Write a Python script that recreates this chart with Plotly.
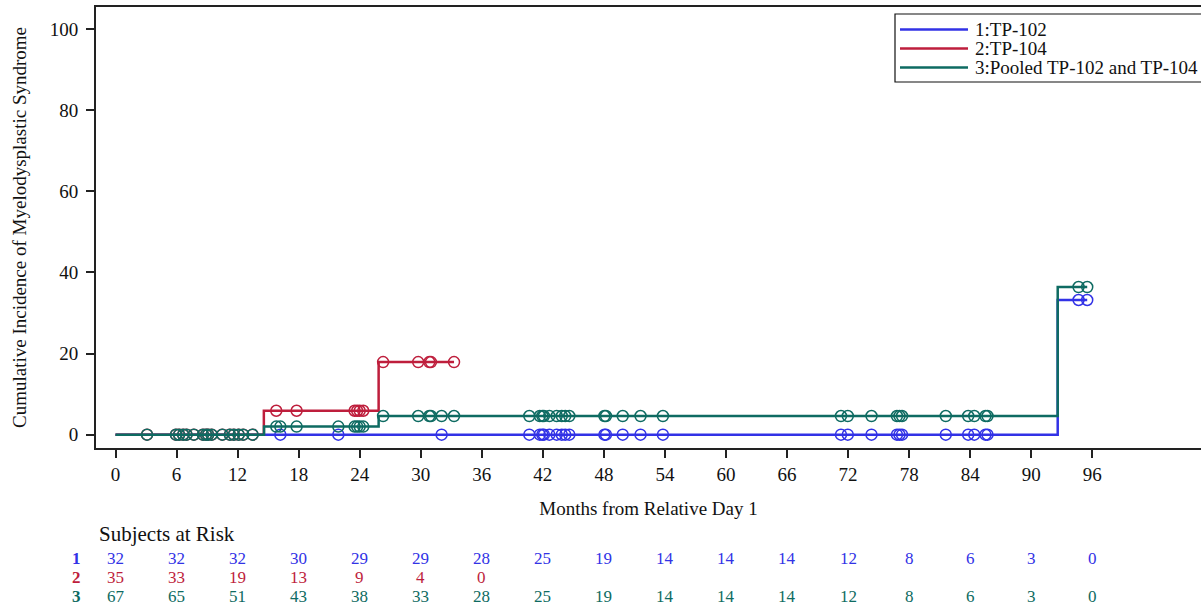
import plotly.graph_objects as go

# ---------------- data ----------------
x_ticks = list(range(0, 97, 6))
y_ticks = [0, 20, 40, 60, 80, 100]
group_names = ["1:TP-102", "2:TP-104", "3:Pooled TP-102 and TP-104"]
group_labels = ["1", "2", "3"]
colors = ["#3232E6", "#BE1E3C", "#0E6B62"]

# step curves (event times, cumulative incidence after each event)
blue_step_t = [0, 92.6]
blue_step_v = [0, 33.2]
blue_end = 95.5
red_step_t = [0, 14.58, 25.86]
red_step_v = [0, 5.9, 17.9]
red_end = 33.27
green_step_t = [0, 14.6, 25.86, 92.6]
green_step_v = [0, 2.0, 4.6, 36.4]
green_end = 95.5

# censored times
blue_censor = [16.2, 21.9, 32.05, 40.67, 41.7, 41.95, 42.1, 42.64, 43.36, 43.86,
               44.2, 44.6, 48.05, 48.2, 49.85, 51.6, 53.8, 71.3, 71.97, 74.3,
               76.8, 77.05, 77.3, 81.6, 83.8, 84.4, 85.5, 85.7, 94.65, 95.5]
red_censor = [3.1, 5.94, 6.25, 6.65, 6.98, 7.7, 8.6, 8.9, 9.1, 9.45, 10.5, 11.24,
              11.63, 12.1, 12.55, 13.47, 15.8, 17.8, 23.5, 23.75, 24.0, 24.35,
              26.3, 29.75, 30.84, 31.0, 33.27]
green_censor = [3.1, 5.94, 6.25, 6.65, 6.98, 7.7, 8.6, 8.9, 9.1, 9.45, 10.5, 11.24,
                11.63, 12.1, 12.55, 13.47, 15.8, 16.2, 17.8, 21.9, 23.5, 23.75,
                24.0, 24.35, 26.3, 29.75, 30.84, 31.0, 32.05, 33.27, 40.67, 41.7,
                41.95, 42.1, 42.64, 43.36, 43.86, 44.2, 44.6, 48.05, 48.2, 49.85,
                51.6, 53.8, 71.3, 71.97, 74.3, 76.8, 77.05, 77.3, 81.6, 83.8, 84.4,
                85.5, 85.7, 94.65, 95.5]

# subjects at risk
risk_blue = [32, 32, 32, 30, 29, 29, 28, 25, 19, 14, 14, 14, 12, 8, 6, 3, 0]
risk_red = [35, 33, 19, 13, 9, 4, 0]
risk_green = [67, 65, 51, 43, 38, 33, 28, 25, 19, 14, 14, 14, 12, 8, 6, 3, 0]

# ---------------- geometry ----------------
W, H = 1201, 610
ML, MR, MT, MB = 96, 0, 7, 162
PW = W - ML - MR
PH = H - MT - MB
FONT = "Liberation Serif, Times New Roman, serif"


def px_x(p):
    return (p - ML) / PW


def px_y(p):
    return (H - MB - p) / PH


def step_value(ts, vs, t):
    v = vs[0]
    for ti, vi in zip(ts, vs):
        if ti <= t:
            v = vi
    return v


groups = [
    (blue_step_t, blue_step_v, blue_end, blue_censor),
    (red_step_t, red_step_v, red_end, red_censor),
    (green_step_t, green_step_v, green_end, green_censor),
]

fig = go.Figure()
for (ts, vs, end, cens), name, col in zip(groups, group_names, colors):
    fig.add_trace(go.Scatter(
        x=ts + [end], y=vs + [vs[-1]], mode="lines", name=name,
        line=dict(color=col, width=2.5, shape="hv"), showlegend=False,
        hoverinfo="skip"))
    fig.add_trace(go.Scatter(
        x=cens, y=[step_value(ts, vs, c) for c in cens], mode="markers",
        name=name + " censored", showlegend=False,
        marker=dict(symbol="circle-open", size=11, color=col,
                    line=dict(color=col, width=1.5))))

annotations = []
shapes = []

# legend (drawn manually to match compact spacing)
shapes.append(dict(type="rect", xref="paper", yref="paper",
                   x0=px_x(895), x1=px_x(1215), y0=px_y(82), y1=px_y(14),
                   line=dict(color="#111", width=1.2), fillcolor="white"))
for i, (name, col) in enumerate(zip(group_names, colors)):
    yy = px_y(29.5 + 19 * i)
    shapes.append(dict(type="line", xref="paper", yref="paper",
                       x0=px_x(900), x1=px_x(968), y0=yy, y1=yy,
                       line=dict(color=col, width=2.5)))
    annotations.append(dict(text=name, xref="paper", yref="paper",
                            x=px_x(973), y=yy, xanchor="left", yanchor="middle",
                            showarrow=False, font=dict(family=FONT, size=19, color="#111")))

# subjects at risk table
annotations.append(dict(text="Subjects at Risk", xref="paper", yref="paper",
                        x=px_x(97), y=px_y(534), xanchor="left", yanchor="middle",
                        showarrow=False, font=dict(family=FONT, size=21, color="#111")))
row_y = [558.5, 577, 596]
for risk, lab, col, ry in zip([risk_blue, risk_red, risk_green], group_labels, colors, row_y):
    annotations.append(dict(text="<b>" + lab + "</b>", xref="paper", yref="paper",
                            x=px_x(76.5), y=px_y(ry), xanchor="center", yanchor="middle",
                            showarrow=False, font=dict(family=FONT, size=17, color=col)))
    for t, n in zip(x_ticks, risk):
        annotations.append(dict(text=str(n), xref="x", yref="paper",
                                x=t, y=px_y(ry), xanchor="center", yanchor="middle",
                                showarrow=False, font=dict(family=FONT, size=17, color=col)))

x0_px, x_scale = 115.5, 10.175
y0_px, y_scale = 434.7, 4.057

fig.update_layout(
    width=W, height=H,
    margin=dict(l=ML, r=MR, t=MT, b=MB, pad=0),
    paper_bgcolor="white", plot_bgcolor="white",
    font=dict(family=FONT, size=19, color="#111"),
    showlegend=False,
    annotations=annotations, shapes=shapes,
    xaxis=dict(
        range=[(ML - x0_px) / x_scale, (W - MR - x0_px) / x_scale],
        tickvals=x_ticks, ticktext=[str(t) for t in x_ticks],
        ticks="outside", ticklen=8, tickwidth=1.5, tickcolor="#222",
        showline=True, linecolor="#222", linewidth=2, mirror=True,
        showgrid=False, zeroline=False,
        tickfont=dict(family=FONT, size=19, color="#111"),
        title=dict(text="Months from Relative Day 1", standoff=18,
                   font=dict(family=FONT, size=19, color="#111")),
    ),
    yaxis=dict(
        range=[(y0_px - (H - MB)) / y_scale, (y0_px - MT) / y_scale],
        tickvals=y_ticks, ticktext=[str(t) for t in y_ticks],
        ticks="outside", ticklen=8, tickwidth=1.5, tickcolor="#222",
        ticklabelstandoff=4,
        showline=True, linecolor="#222", linewidth=2, mirror=False,
        showgrid=False, zeroline=False,
        tickfont=dict(family=FONT, size=19, color="#111"),
        title=dict(text="Cumulative Incidence of Myelodysplastic Syndrome", standoff=18,
                   font=dict(family=FONT, size=19, color="#111")),
    ),
)

fig.write_html("out.html")
